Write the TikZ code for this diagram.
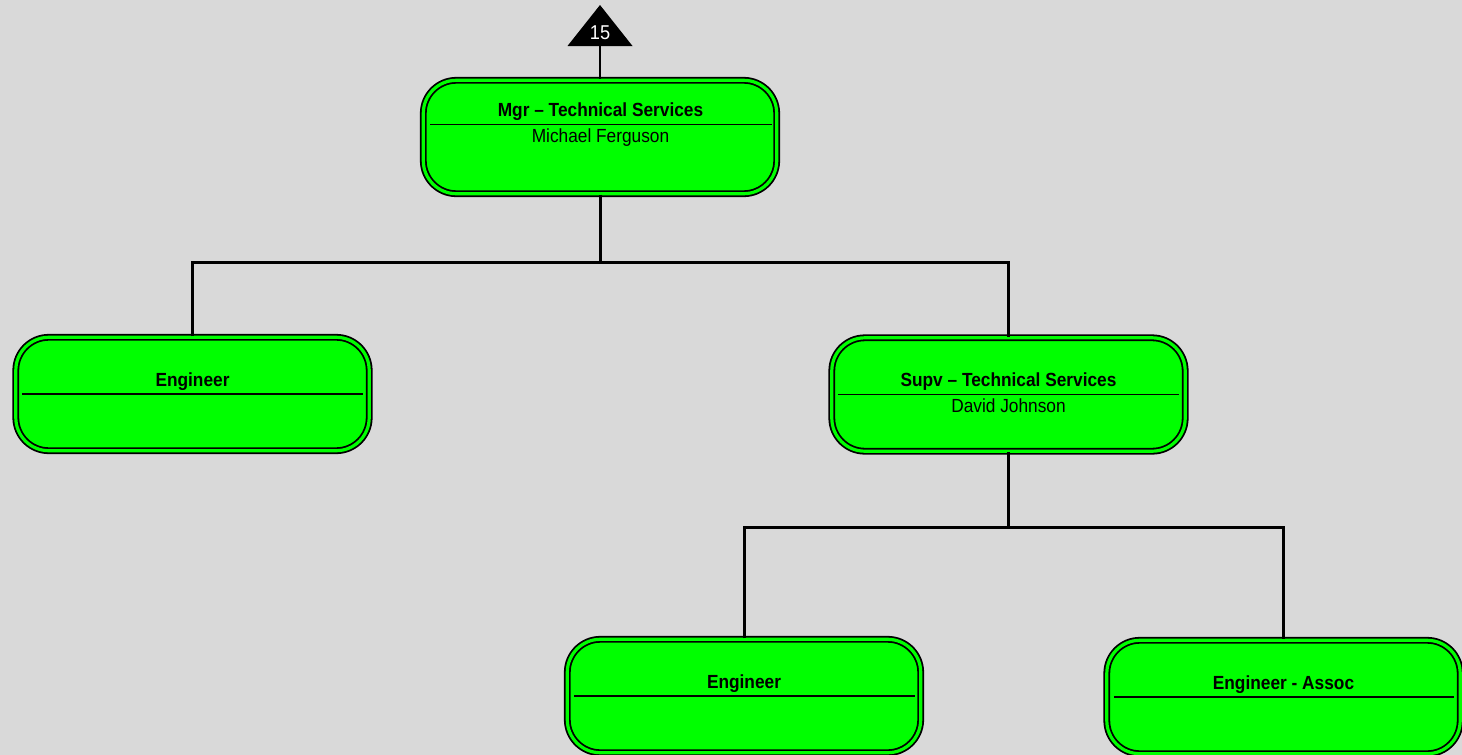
\documentclass[tikz,border=0pt]{standalone}
\usepackage{fontspec}
\setmainfont{Liberation Sans}[FakeStretch=0.91]
\definecolor{bg}{RGB}{217,217,217}
\definecolor{boxgreen}{RGB}{0,255,0}
\begin{document}
\begin{tikzpicture}[x=1pt,y=-1pt,
  orgbox/.style={rectangle, rounded corners=33pt, minimum width=353.4pt, minimum height=113.4pt,
     fill=boxgreen, draw=black, line width=1.8pt, double=boxgreen, double distance=3.2pt, inner sep=0pt},
  titletext/.style={anchor=base, font=\fontsize{19}{21}\selectfont\bfseries, inner sep=0pt},
  nametext/.style={anchor=base, font=\fontsize{19}{21}\selectfont, inner sep=0pt},
  divider/.style={line width=1.5pt},
  conn/.style={line width=3pt},
  tri/.style={fill=black}
]
\useasboundingbox[fill=bg] (0,0) rectangle (1462,755);

% triangle marker
\coordinate (tA) at (600,5);
\coordinate (tL) at (567.5,46);
\coordinate (tR) at (632.5,46);
\fill[tri] (tA) -- (tL) -- (tR) -- cycle;
\node[anchor=base, text=white, inner sep=0pt, font=\fontsize{20}{22}\selectfont] (tnum) at (600,39.5) {15};
\coordinate (tbase) at (600,46);

% boxes
\node[orgbox] (top) at (600,137) {};
\node[orgbox] (eng1) at (192.5,394) {};
\node[orgbox] (supv) at (1008.5,394.5) {};
\node[orgbox] (eng2) at (744,696) {};
\node[orgbox] (assoc) at (1283.5,697) {};

% dividers and texts
\draw[divider] (430,124.3) -- (772,124.3);
\node[titletext] (topt) at (600.5,116.7) {Mgr – Technical Services};
\node[nametext] (topn) at (600.5,142.7) {Michael Ferguson};

\draw[divider] (22,394) -- (363,394);
\node[titletext] (eng1t) at (192.5,386.4) {Engineer};

\draw[divider] (838,394.3) -- (1179,394.3);
\node[titletext] (supvt) at (1008.5,386.7) {Supv – Technical Services};
\node[nametext] (supvn) at (1008.5,412.7) {David Johnson};

\draw[divider] (574,696) -- (915,696);
\node[titletext] (eng2t) at (744,688.4) {Engineer};

\draw[divider] (1114,697) -- (1454,697);
\node[titletext] (assoct) at (1283.5,689.4) {Engineer - Assoc};

% connectors
\draw[line width=1.4pt] (tbase) -- (top.north);
\coordinate (bus1) at (600,262);
\coordinate (bus2) at (1008.5,527);
\draw[conn] (top.south) -- (bus1);
\draw[conn] (eng1.north) |- (bus1) -| (supv.north);
\draw[conn] (supv.south) -- (bus2);
\draw[conn] (eng2.north) |- (bus2) -| (assoc.north);
\end{tikzpicture}
\end{document}
